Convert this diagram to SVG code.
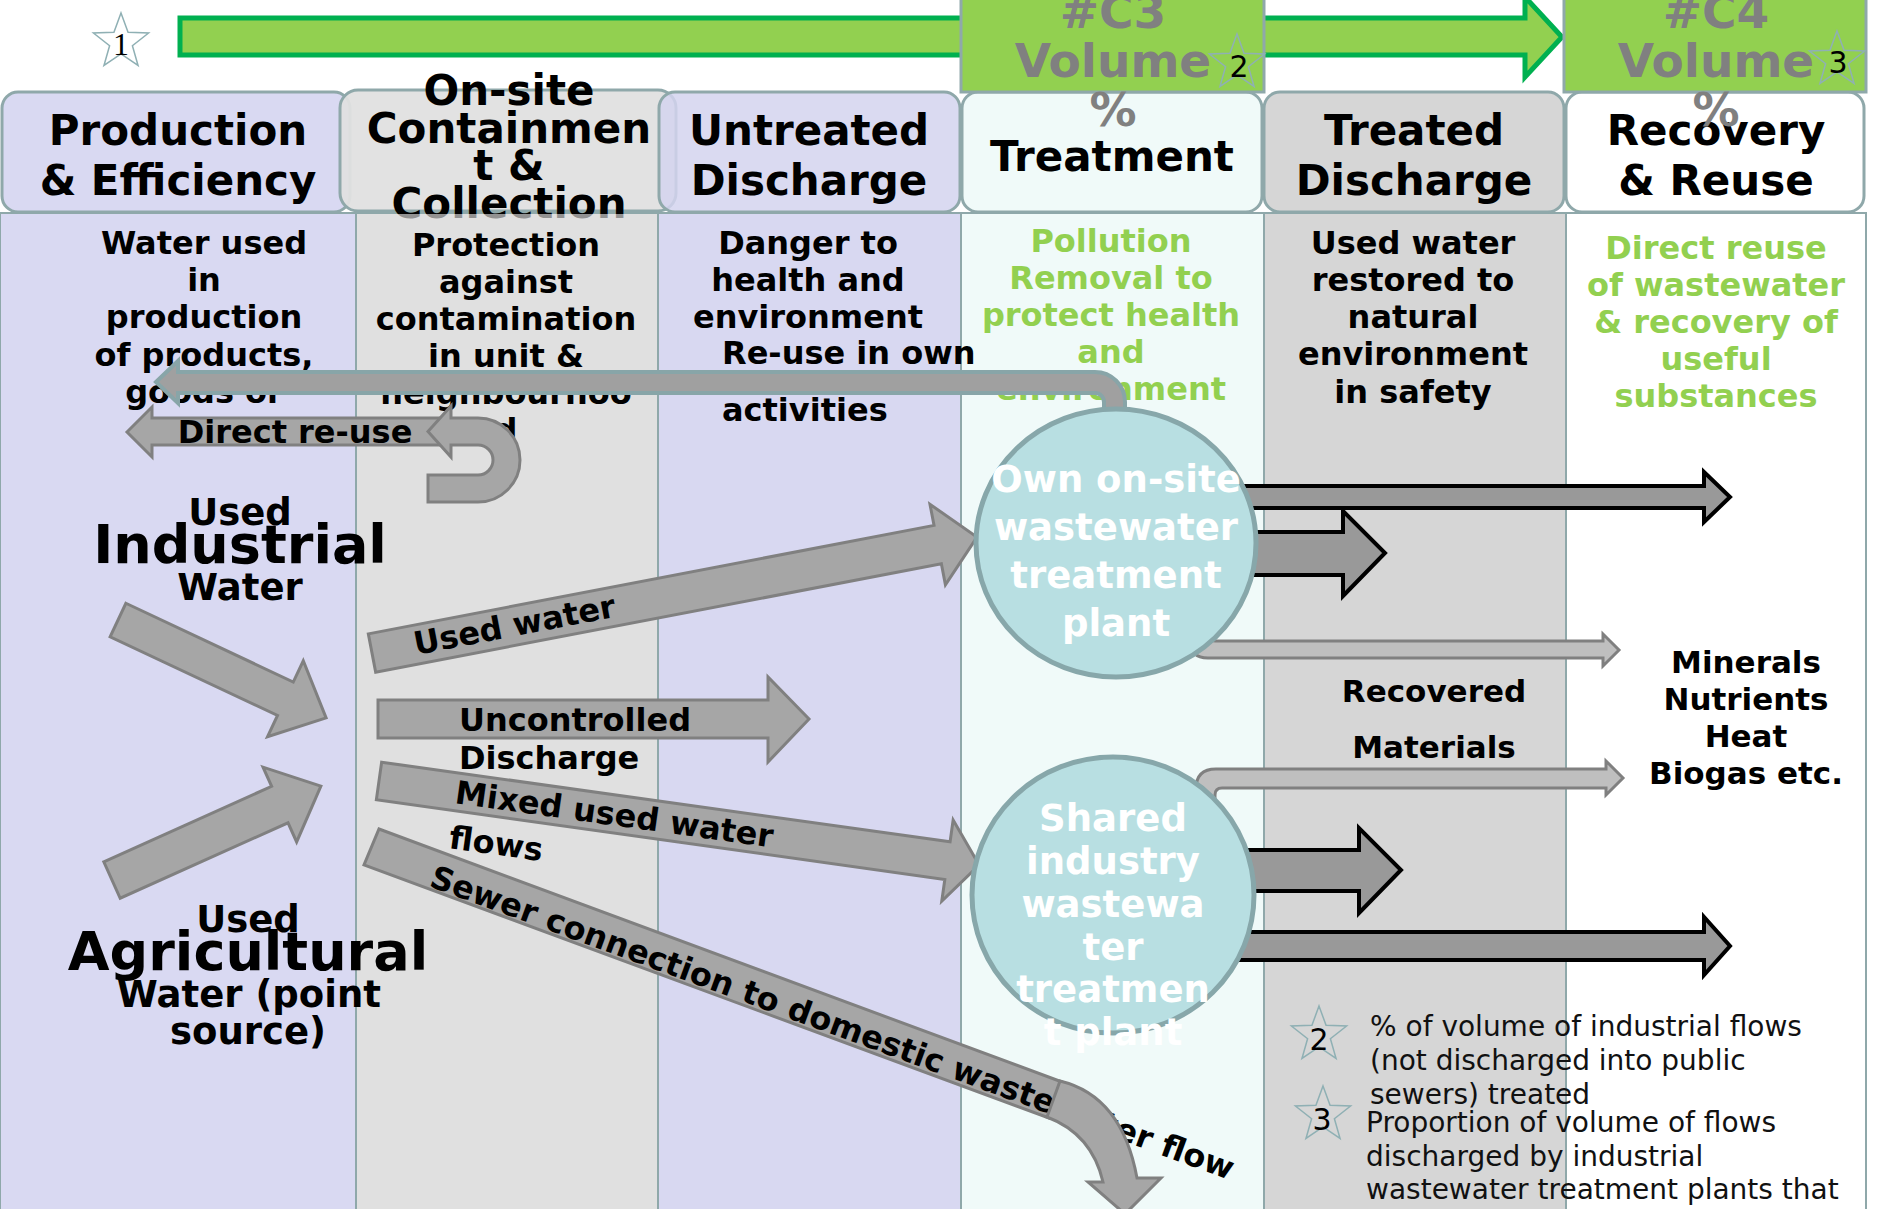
<svg xmlns="http://www.w3.org/2000/svg" width="1878" height="1209" viewBox="0 0 1878 1209">
<style>
.col{stroke:#8fa8aa;stroke-width:2}
.hdr{stroke:#8fa8aa;stroke-width:3}
.t{font-family:"DejaVu Sans",Verdana,sans-serif;font-weight:bold;fill:#000}
.h42{font-size:42px;text-anchor:middle}
.b32{font-size:32px;text-anchor:middle}
.b31{font-size:31px;text-anchor:middle}
.b37{font-size:37px;text-anchor:middle}
.big{font-size:54px;text-anchor:middle}
.grn{fill:#92d050}
.gv{fill:#808080;font-size:47px;text-anchor:middle}
.ga{fill:#a6a6a6;stroke:#808080;stroke-width:3}
.ba{fill:#999999;stroke:#000;stroke-width:4}
.la{fill:#bfbfbf;stroke:#808080;stroke-width:3}
.ra{fill:#a0a0a0;stroke:#88a5a8;stroke-width:4}
.star{fill:none;stroke:#8fb0b4;stroke-width:1.5}
.circ{fill:#b8dfe2;stroke:#87a7aa;stroke-width:5}
.ct{fill:#fff;font-size:37px;text-anchor:middle}
.n{font-family:"DejaVu Sans",Verdana,sans-serif;fill:#000}
.fn{font-family:"DejaVu Sans",Verdana,sans-serif;font-size:28px;fill:#111}
</style>
<defs>
<path id="star" d="M0,-29 L7.05,-9.71 L27.58,-8.96 L11.41,3.71 L17.05,23.46 L0,12 L-17.05,23.46 L-11.41,3.71 L-27.58,-8.96 L-7.05,-9.71 Z"/>
</defs>
<rect x="0" y="0" width="1878" height="1209" fill="#fff"/>

<g id="columns">
<rect class="col" x="0" y="213" width="356" height="1000" fill="#d9d9f2"/>
<rect class="col" x="356" y="213" width="302" height="1000" fill="#e0e0e0"/>
<rect class="col" x="658" y="213" width="303" height="1000" fill="#d8d8f1"/>
<rect class="col" x="961" y="213" width="303" height="1000" fill="#f0faf9"/>
<rect class="col" x="1264" y="213" width="302" height="1000" fill="#d6d6d6"/>
<rect class="col" x="1566" y="213" width="300" height="1000" fill="#ffffff"/>
</g>

<g id="header-production">
<rect class="hdr" x="2" y="92" width="348" height="120" rx="16" fill="#d9d9f2"/>
<text class="t h42" x="178" y="145">Production</text>
<text class="t h42" x="178" y="195">&amp; Efficiency</text>
</g>
<g id="header-onsite">
<rect class="hdr" x="340" y="90" width="336" height="121" rx="18" fill="#e0e0e0" fill-opacity="0.95"/>
<text class="t h42" x="509" y="105">On-site</text>
<text class="t h42" x="509" y="143">Containmen</text>
<text class="t h42" x="509" y="180">t &amp;</text>
<text class="t h42" x="509" y="218">Collection</text>
<rect x="357" y="214" width="300" height="12" fill="#e0e0e0" fill-opacity="0.65"/>
</g>
<g id="header-untreated">
<rect class="hdr" x="659" y="92" width="301" height="120" rx="16" fill="#d4d4ef" fill-opacity="0.85"/>
<text class="t h42" x="809" y="145">Untreated</text>
<text class="t h42" x="809" y="195">Discharge</text>
</g>
<g id="header-treatment">
<rect class="hdr" x="962" y="92" width="300" height="120" rx="16" fill="#f0faf9"/>
<text class="t h42" x="1112" y="171">Treatment</text>
</g>
<g id="header-treated">
<rect class="hdr" x="1264" y="92" width="300" height="120" rx="16" fill="#d6d6d6"/>
<text class="t h42" x="1414" y="145">Treated</text>
<text class="t h42" x="1414" y="195">Discharge</text>
</g>
<g id="header-recovery">
<rect class="hdr" x="1566" y="92" width="298" height="120" rx="16" fill="#ffffff"/>
<text class="t h42" x="1716" y="145">Recovery</text>
<text class="t h42" x="1716" y="195">&amp; Reuse</text>
</g>

<g id="top-arrow">
<path d="M180,18 L1525,18 L1525,-3 L1562,37 L1525,77 L1525,55 L180,55 Z" fill="#92d050" stroke="#00b050" stroke-width="5"/>
<use href="#star" class="star" x="121" y="42"/>
<text x="121" y="55" font-family="Liberation Serif,serif" font-size="32" text-anchor="middle" fill="#000">1</text>
</g>

<g id="c3-box">
<rect x="961" y="-5" width="303" height="97" fill="#92d050" stroke="#8fa8aa" stroke-width="3"/>
<text class="t gv" x="1113" y="28">#C3</text>
<text class="t gv" x="1113" y="77">Volume</text>
<text class="t gv" x="1113" y="126">%</text>
<use href="#star" class="star" x="1237" y="63"/>
<text class="n" x="1239" y="77" font-size="30" text-anchor="middle">2</text>
</g>
<g id="c4-box">
<rect x="1564" y="-5" width="302" height="97" fill="#92d050" stroke="#8fa8aa" stroke-width="3"/>
<text class="t gv" x="1716" y="28">#C4</text>
<text class="t gv" x="1716" y="77">Volume</text>
<text class="t gv" x="1716" y="126">%</text>
<use href="#star" class="star" x="1837" y="60"/>
<text class="n" x="1838" y="73" font-size="30" text-anchor="middle">3</text>
</g>

<g id="col1-text" class="t b32">
<text x="204" y="254">Water used</text>
<text x="204" y="291">in</text>
<text x="204" y="328">production</text>
<text x="204" y="366">of products,</text>
<text x="204" y="403">goods or</text>
</g>
<g id="col2-text" class="t b32">
<text x="506" y="256">Protection</text>
<text x="506" y="293">against</text>
<text x="506" y="330">contamination</text>
<text x="506" y="367">in unit &amp;</text>
<text x="506" y="404">neighbourhoo</text>
<text x="506" y="441">d</text>
</g>
<g id="col3-text" class="t b32">
<text x="808" y="254">Danger to</text>
<text x="808" y="291">health and</text>
<text x="808" y="328">environment</text>
<text x="722" y="364" text-anchor="start">Re-use in own</text>
<text x="722" y="421" text-anchor="start">activities</text>
</g>
<g id="col4-text" class="t b32 grn">
<text x="1111" y="252">Pollution</text>
<text x="1111" y="289">Removal to</text>
<text x="1111" y="326">protect health</text>
<text x="1111" y="363">and</text>
<text x="1111" y="400">environment</text>
</g>
<g id="col5-text" class="t b32">
<text x="1413" y="254">Used water</text>
<text x="1413" y="291">restored to</text>
<text x="1413" y="328">natural</text>
<text x="1413" y="365">environment</text>
<text x="1413" y="403">in safety</text>
</g>
<g id="col6-text" class="t b32 grn">
<text x="1716" y="259">Direct reuse</text>
<text x="1716" y="296">of wastewater</text>
<text x="1716" y="333">&amp; recovery of</text>
<text x="1716" y="370">useful</text>
<text x="1716" y="407">substances</text>
</g>

<g id="industrial-source" class="t">
<text class="b37" x="240" y="525">Used</text>
<text class="big" x="240" y="563">Industrial</text>
<text class="b37" x="240" y="600">Water</text>
</g>
<g id="agricultural-source" class="t">
<text class="b37" x="248" y="932">Used</text>
<text class="big" x="248" y="970">Agricultural</text>
<text class="b37" x="249" y="1007">Water (point</text>
<text class="b37" x="248" y="1044">source)</text>
</g>

<g id="connectors">
<path class="ra" d="M156,382 L178,361 L178,372 L1095,372 A30,30 0 0 1 1125,402 L1125,425 L1104,425 L1104,402 A9,9 0 0 0 1095,393 L178,393 L178,403 Z"/>
<path class="ga" d="M127,432 L152,407 L152,418 L446,418 L446,445 L152,445 L152,457 Z"/>
<path class="ga" d="M428,475 L478,475 A15,15 0 0 0 478,445 L451,445 L451,457 L428,431.5 L451,406 L451,418 L478,418 A42,42 0 0 1 478,502 L428,502 Z"/>
<text class="t b32" x="295" y="443">Direct re-use</text>

<polygon class="ga" transform="translate(118,620) rotate(25.2)" points="0,-18.5 185,-18.5 185,-42 230,0 185,42 185,18.5 0,18.5"/>
<polygon class="ga" transform="translate(112,880) rotate(-24.2)" points="0,-20 184,-20 184,-41 229,0 184,41 184,20 0,20"/>

<polygon class="ga" transform="translate(372,653) rotate(-10.85)" points="0,-19.5 576,-19.5 576,-41 616,0 576,41 576,19.5 0,19.5"/>
<text class="t" font-size="32" transform="translate(416,655) rotate(-10.85)">Used water</text>

<polygon class="ga" points="378,700 768,700 768,677 809,719 768,762 768,738 378,738"/>
<text class="t" font-size="32" x="459" y="731">Uncontrolled</text>
<text class="t" font-size="32" x="459" y="769">Discharge</text>

<polygon class="ga" transform="translate(379,781) rotate(7.97)" points="0,-19 574,-19 574,-41 606,0 574,41 574,19 0,19"/>
<text class="t" font-size="32" transform="translate(454,803) rotate(7.97)">Mixed used water</text>
<text class="t" font-size="32" transform="translate(448,848) rotate(7.97)">flows</text>

<path class="ga" d="M379,829 L1062,1082 L1049,1118 L364,865 Z"/>
<text class="t" font-size="32" transform="translate(428,886) rotate(20.15)">Sewer connection to domestic wastewater flow</text>
<path class="ga" d="M1060,1081 Q1122,1096 1137,1178 L1161,1178 L1125,1214 L1088,1182 L1103,1182 Q1092,1134 1047,1117 Z"/>

<path class="la" d="M1190,600 L1190,640 Q1190,658 1208,658 L1603,658 L1603,666 L1619,650 L1603,634 L1603,641 L1215,641 Q1209,641 1209,635 L1209,600 Z"/>
<path class="la" d="M1196,830 L1196,789 Q1196,769 1216,769 L1606,769 L1606,761 L1623,778 L1606,795 L1606,788 L1222,788 Q1215,788 1215,795 L1215,830 Z"/>
<path class="ba" d="M1225,486 L1704,486 L1704,472 L1730,497 L1704,522 L1704,508 L1225,508 Z"/>
<path class="ba" d="M1230,532 L1343,532 L1343,511 L1385,553 L1343,596 L1343,575 L1230,575 Z"/>
<path class="ba" d="M1230,850 L1359,850 L1359,828 L1401,870 L1359,913 L1359,891 L1230,891 Z"/>
<path class="ba" d="M1220,932 L1704,932 L1704,917 L1730,946 L1704,975 L1704,960 L1220,960 Z"/>
</g>

<g id="own-wwtp">
<ellipse class="circ" cx="1116" cy="543" rx="140" ry="134"/>
<text class="t ct" x="1116" y="492">Own on-site</text>
<text class="t ct" x="1116" y="540">wastewater</text>
<text class="t ct" x="1116" y="588">treatment</text>
<text class="t ct" x="1116" y="636">plant</text>
</g>
<g id="shared-wwtp">
<ellipse class="circ" cx="1113" cy="895" rx="141" ry="138"/>
<text class="t ct" x="1113" y="831">Shared</text>
<text class="t ct" x="1113" y="874">industry</text>
<text class="t ct" x="1113" y="917">wastewa</text>
<text class="t ct" x="1113" y="960">ter</text>
<text class="t ct" x="1113" y="1002">treatmen</text>
<text class="t ct" x="1113" y="1045">t plant</text>
</g>

<g id="recovered-materials" class="t b31">
<text x="1434" y="702">Recovered</text>
<text x="1434" y="758">Materials</text>
</g>
<g id="products" class="t b31">
<text x="1746" y="673">Minerals</text>
<text x="1746" y="710">Nutrients</text>
<text x="1746" y="747">Heat</text>
<text x="1746" y="784">Biogas etc.</text>
</g>

<g id="footnote-2">
<use href="#star" class="star" x="1319" y="1035"/>
<text class="n" x="1319" y="1050" font-size="30" text-anchor="middle">2</text>
<text class="fn" x="1370" y="1036">% of volume of industrial flows</text>
<text class="fn" x="1370" y="1070">(not discharged into public</text>
<text class="fn" x="1370" y="1104">sewers) treated</text>
</g>
<g id="footnote-3">
<use href="#star" class="star" x="1323" y="1115"/>
<text class="n" x="1322" y="1130" font-size="30" text-anchor="middle">3</text>
<text class="fn" x="1366" y="1132">Proportion of volume of flows</text>
<text class="fn" x="1366" y="1166">discharged by industrial</text>
<text class="fn" x="1366" y="1199">wastewater treatment plants that</text>
</g>
</svg>
